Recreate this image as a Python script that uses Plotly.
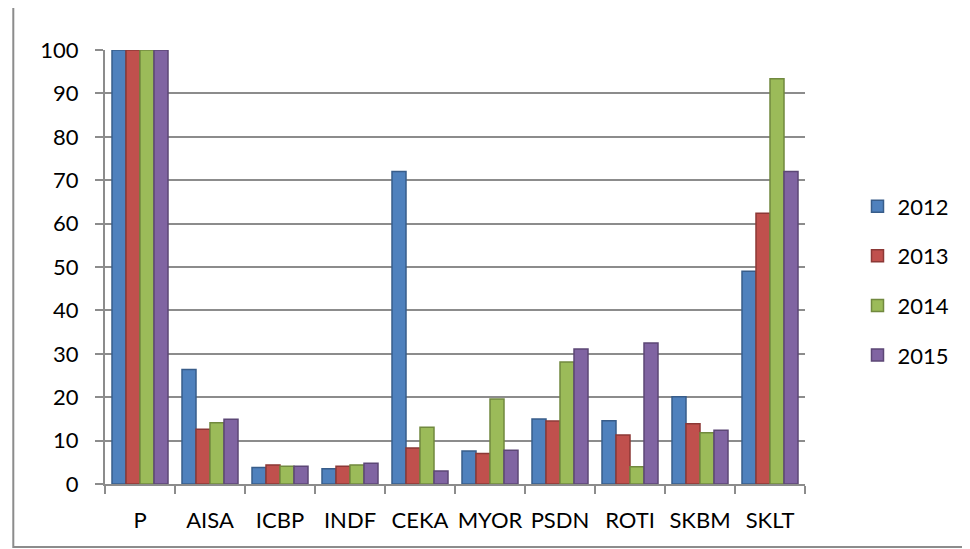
import plotly.graph_objects as go

categories = ["P", "AISA", "ICBP", "INDF", "CEKA", "MYOR", "PSDN", "ROTI", "SKBM", "SKLT"]
years = ["2012", "2013", "2014", "2015"]
v2012 = [100, 26.4, 3.8, 3.5, 72.0, 7.6, 15.0, 14.6, 20.1, 49.0]
v2013 = [100, 12.6, 4.4, 4.1, 8.3, 7.0, 14.5, 11.3, 13.9, 62.4]
v2014 = [100, 14.1, 4.1, 4.4, 13.1, 19.6, 28.1, 4.0, 11.8, 93.4]
v2015 = [100, 14.9, 4.1, 4.8, 3.0, 7.8, 31.1, 32.5, 12.4, 72.0]
series = [v2012, v2013, v2014, v2015]
y_ticks = [0, 10, 20, 30, 40, 50, 60, 70, 80, 90, 100]

colors = ["#4F81BD", "#C0504D", "#9BBB59", "#8064A2"]
edges = ["#385D8A", "#8C3836", "#71893F", "#5C4776"]

FONT = "Lato, Carlito, Calibri, Liberation Sans, sans-serif"

fig = go.Figure()
for name, vals, c, e in zip(years, series, colors, edges):
    fig.add_trace(go.Bar(
        x=categories, y=vals, name=name, legendgroup=name,
        marker=dict(color=c, line=dict(color=e, width=1.5)),
    ))

fig.update_layout(
    width=962, height=541,
    margin=dict(l=97, r=165, t=42, b=65, autoexpand=False),
    paper_bgcolor="white", plot_bgcolor="white",
    barmode="group", bargap=0.2, bargroupgap=0,
    font=dict(family=FONT, size=22, color="#000000"),
    showlegend=True,
    legend=dict(x=1.075, y=0.468, xanchor="left", yanchor="middle",
                font=dict(family=FONT, size=22, color="#000000"),
                tracegroupgap=18, traceorder="grouped",
                bgcolor="rgba(0,0,0,0)", itemwidth=30),
    xaxis=dict(
        showgrid=False, showline=True, linecolor="#8C8C8C", linewidth=2,
        ticks="outside", tickson="boundaries", ticklen=8, tickcolor="#8C8C8C", tickwidth=2,
        tickfont=dict(family=FONT, size=22), ticklabelstandoff=16,
        tickangle=0, automargin=False,
    ),
    yaxis=dict(
        range=[0, 100], tickvals=y_ticks, ticktext=[str(t) for t in y_ticks],
        showgrid=True, gridcolor="#8C8C8C", gridwidth=2,
        showline=True, linecolor="#8C8C8C", linewidth=2,
        ticks="outside", ticklen=8, tickcolor="#8C8C8C", tickwidth=2,
        tickfont=dict(family=FONT, size=22), zeroline=False, ticklabelstandoff=12,
        automargin=False,
    ),
    shapes=[dict(type="rect", xref="paper", yref="paper",
                 x0=-0.131, x1=1.236, y0=-0.145, y1=1.1,
                 line=dict(color="#8C8C8C", width=2), fillcolor="rgba(0,0,0,0)", layer="below")],
)

fig.write_html("out.html")
